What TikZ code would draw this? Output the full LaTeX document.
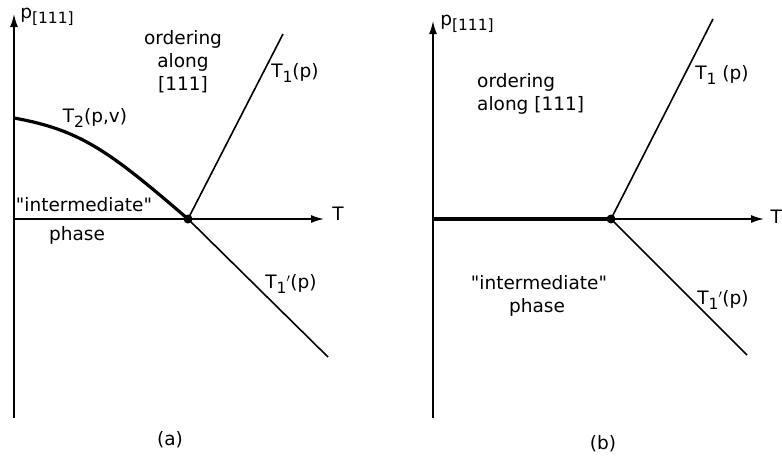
\documentclass[tikz,border=0pt]{standalone}
\usepackage{fontspec}
\setmainfont{DejaVu Sans}
\usetikzlibrary{arrows.meta}
\newcommand{\lowr}[1]{{\raisebox{-0.45ex}{\fontsize{15.5}{16}\selectfont #1}}}
\begin{document}
\begin{tikzpicture}[x=1pt,y=-1pt,
  lbl/.style={inner sep=0pt,font=\fontsize{18.5}{23}\selectfont},
  axis/.style={line width=1.6pt,-{Latex[length=13pt,width=8pt]}},
  thin/.style={line width=1.6pt},
  thick/.style={line width=3.2pt},
  tdot/.style={circle,fill=black,inner sep=0pt,minimum size=9pt}]
\useasboundingbox (0,0) rectangle (782,456);
% ---------- panel (a)
\coordinate (a0) at (14,219);
\coordinate (abot) at (14,418);
\coordinate (atop) at (14,14);
\coordinate (aright) at (324,219);
\coordinate (a1) at (283,34);
\coordinate (a1p) at (328,357);
\coordinate (a2) at (14,118);
\node[tdot] (ap) at (188,219) {};
\draw[axis] (abot) -- (atop);
\draw[axis] (a0) -- (aright);
\draw[thin] (ap.center) -- (a1);
\draw[thin] (ap.center) -- (a1p);
\draw[thick] (a2) .. controls (80,130) and (108,150) .. (ap.center);
\node[lbl] (apl) at (47,17) {p\lowr{[111]}};
\node[lbl] (aT) at (338,214) {T};
\node[lbl,align=center] (aord) at (183,62) {ordering\\along\\{[}111{]}};
\node[lbl] (aT1) at (295,73) {T\lowr{1}(p)};
\node[lbl] (aT2) at (95,118) {T\lowr{2}(p,v)};
\node[lbl] (aint) at (84,205) {\textquotedbl intermediate\textquotedbl};
\node[lbl] (aph) at (77,235) {phase};
\node[lbl] (aT1p) at (291,284) {T\lowr{1}$'$(p)};
\node[lbl] (acap) at (170,440) {(a)};
% ---------- panel (b)
\coordinate (b0) at (433,219);
\coordinate (bbot) at (433,418);
\coordinate (btop) at (433,21);
\coordinate (bright) at (764,219);
\coordinate (b1) at (713,19);
\coordinate (b1p) at (747,355);
\node[tdot] (bp) at (611,219) {};
\draw[axis] (bbot) -- (btop);
\draw[axis] (b0) -- (bright);
\draw[thick] (b0) -- (bp.center);
\draw[thin] (bp.center) -- (b1);
\draw[thin] (bp.center) -- (b1p);
\node[lbl] (bpl) at (467,24) {p\lowr{[111]}};
\node[lbl,anchor=east] (bT) at (782,217) {T};
\node[lbl,align=left,anchor=west] (bord) at (477,94) {ordering\\along {[}111{]}};
\node[lbl] (bT1) at (722,75) {T\lowr{1} (p)};
\node[lbl] (bint) at (539,283) {\textquotedbl intermediate\textquotedbl};
\node[lbl] (bph) at (537,307) {phase};
\node[lbl] (bT1p) at (723,300) {T\lowr{1}$'$(p)};
\node[lbl] (bcap) at (603,444) {(b)};
\end{tikzpicture}
\end{document}
